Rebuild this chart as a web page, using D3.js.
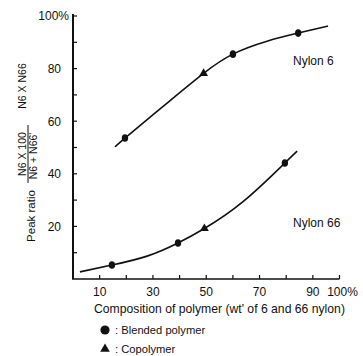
<!DOCTYPE html>
<html>
<head>
<meta charset="utf-8">
<script src="https://cdn.jsdelivr.net/npm/d3@7"></script>
<style>
  html, body { margin: 0; padding: 0; background: #fff; }
  text { font-family: "Liberation Sans", Arial, Helvetica, sans-serif; fill: #111; }
</style>
</head>
<body>
<div id="chart"></div>
<script>
// tick values
const xTickLabels = [10, 30, 50, 70, 90, 100];
const xMinorTicks = [10, 20, 30, 40, 50, 60, 70, 80, 90, 100];
const yTickLabels = [20, 40, 60, 80, 100];
const yMinorTicks = [10, 20, 30, 40, 50, 60, 70, 80, 90, 100];

// Nylon 6 curve
const n6CurveX = [15.8, 19.5, 35.3, 49, 60, 72.8, 84.5, 95.7];
const n6CurveY = [50.2, 53.6, 66.9, 78.2, 85.5, 90.4, 93.5, 96.2];
const n6BlendX = [19.5, 60, 84.5];
const n6BlendY = [53.6, 85.5, 93.5];
const n6CopoX = [49];
const n6CopoY = [78.2];

// Nylon 66 curve
const n66CurveX = [2.6, 14.6, 27.8, 39.4, 49.3, 63.8, 79.5, 84.1];
const n66CurveY = [2.7, 5.3, 8.7, 13.7, 19.2, 29.4, 44.1, 48.6];
const n66BlendX = [14.6, 39.4, 79.5];
const n66BlendY = [5.3, 13.7, 44.1];
const n66CopoX = [49.3];
const n66CopoY = [19.2];

const width = 363, height = 356;

const svg = d3.select('#chart')
  .append('svg')
  .attr('width', width)
  .attr('height', height);

svg.append('rect').attr('width', width).attr('height', height).attr('fill', '#fff');

const x = d3.scaleLinear().domain([0, 100]).range([73, 339.5]);
const y = d3.scaleLinear().domain([0, 100]).range([279, 16]);

// axes
const axisColor = '#111';
svg.append('line')
  .attr('x1', x(0)).attr('x2', x(0))
  .attr('y1', y(0)).attr('y2', y(100) - 2)
  .attr('stroke', axisColor).attr('stroke-width', 2);

svg.append('line')
  .attr('x1', x(0) - 1).attr('x2', x(100))
  .attr('y1', y(0)).attr('y2', y(0))
  .attr('stroke', axisColor).attr('stroke-width', 1.6);

// inward ticks
svg.selectAll('.ytick')
  .data(yMinorTicks)
  .enter()
  .append('line')
  .attr('class', 'ytick')
  .attr('x1', x(0)).attr('x2', x(0) + 4)
  .attr('y1', d => y(d)).attr('y2', d => y(d))
  .attr('stroke', axisColor).attr('stroke-width', 1.2);

svg.selectAll('.xtick')
  .data(xMinorTicks)
  .enter()
  .append('line')
  .attr('class', 'xtick')
  .attr('x1', d => x(d)).attr('x2', d => x(d))
  .attr('y1', y(0)).attr('y2', y(0) - 4)
  .attr('stroke', axisColor).attr('stroke-width', 1.2);

// tick labels
svg.selectAll('.ylabel')
  .data(yTickLabels)
  .enter()
  .append('text')
  .attr('class', 'ylabel')
  .attr('x', d => d === 100 ? 69 : 61)
  .attr('y', d => y(d))
  .attr('dy', '0.36em')
  .attr('text-anchor', 'end')
  .attr('font-size', 12)
  .text(d => d === 100 ? '100%' : d);

svg.selectAll('.xlabel')
  .data(xTickLabels)
  .enter()
  .append('text')
  .attr('class', 'xlabel')
  .attr('x', d => d === 100 ? x(d) + 3 : x(d))
  .attr('y', 296)
  .attr('text-anchor', 'middle')
  .attr('font-size', 12)
  .text(d => d === 100 ? '100%' : d);

// x title
svg.append('text')
  .attr('x', 94)
  .attr('y', 313)
  .attr('font-size', 12.2)
  .text("Composition of polymer (wt' of 6 and 66 nylon)");

// y title (rotated)
const yTitle = svg.append('g');
const rot = (cx, cy, txt, size) => yTitle.append('text')
  .attr('transform', `translate(${cx},${cy}) rotate(-90)`)
  .attr('text-anchor', 'middle')
  .attr('dy', '0.36em')
  .attr('font-size', size)
  .text(txt);

rot(31, 216, 'Peak ratio', 11.5);
rot(22.5, 154, 'N6 X 100', 10.5);
rot(33.5, 156, "N6 + N66'", 10.5);
rot(22.5, 86, 'N6 X N66', 10.5);
yTitle.append('line')
  .attr('x1', 28).attr('x2', 28)
  .attr('y1', 125).attr('y2', 183)
  .attr('stroke', axisColor).attr('stroke-width', 1);

// curves
const line = d3.line()
  .x(d => x(d[0]))
  .y(d => y(d[1]))
  .curve(d3.curveNatural);

const curves = [
  d3.zip(n6CurveX, n6CurveY),
  d3.zip(n66CurveX, n66CurveY)
];

svg.selectAll('.curve')
  .data(curves)
  .enter()
  .append('path')
  .attr('class', 'curve')
  .attr('d', line)
  .attr('fill', 'none')
  .attr('stroke', '#111')
  .attr('stroke-width', 1.6);

// markers
const blended = d3.zip(n6BlendX, n6BlendY).concat(d3.zip(n66BlendX, n66BlendY));
const copoly = d3.zip(n6CopoX, n6CopoY).concat(d3.zip(n66CopoX, n66CopoY));

svg.selectAll('.blend')
  .data(blended)
  .enter()
  .append('ellipse')
  .attr('class', 'blend')
  .attr('cx', d => x(d[0]))
  .attr('cy', d => y(d[1]))
  .attr('rx', 3.2)
  .attr('ry', 3.8)
  .attr('fill', '#111');

const tri = d3.symbol().type(d3.symbolTriangle).size(34);
svg.selectAll('.copo')
  .data(copoly)
  .enter()
  .append('path')
  .attr('class', 'copo')
  .attr('transform', d => `translate(${x(d[0])},${y(d[1])})`)
  .attr('d', tri)
  .attr('fill', '#111');

// series labels
svg.append('text').attr('x', 293).attr('y', 65).attr('font-size', 12).text('Nylon 6');
svg.append('text').attr('x', 293).attr('y', 227).attr('font-size', 12).text('Nylon 66');

// legend
svg.append('circle').attr('cx', 105).attr('cy', 330).attr('r', 4.6).attr('fill', '#111');
svg.append('text').attr('x', 115).attr('y', 334).attr('font-size', 11.2).text(': Blended polymer');

svg.append('path')
  .attr('transform', 'translate(105,349)')
  .attr('d', d3.symbol().type(d3.symbolTriangle).size(40))
  .attr('fill', '#111');
svg.append('text').attr('x', 115).attr('y', 353).attr('font-size', 11.2).text(': Copolymer');
</script>
</body>
</html>
